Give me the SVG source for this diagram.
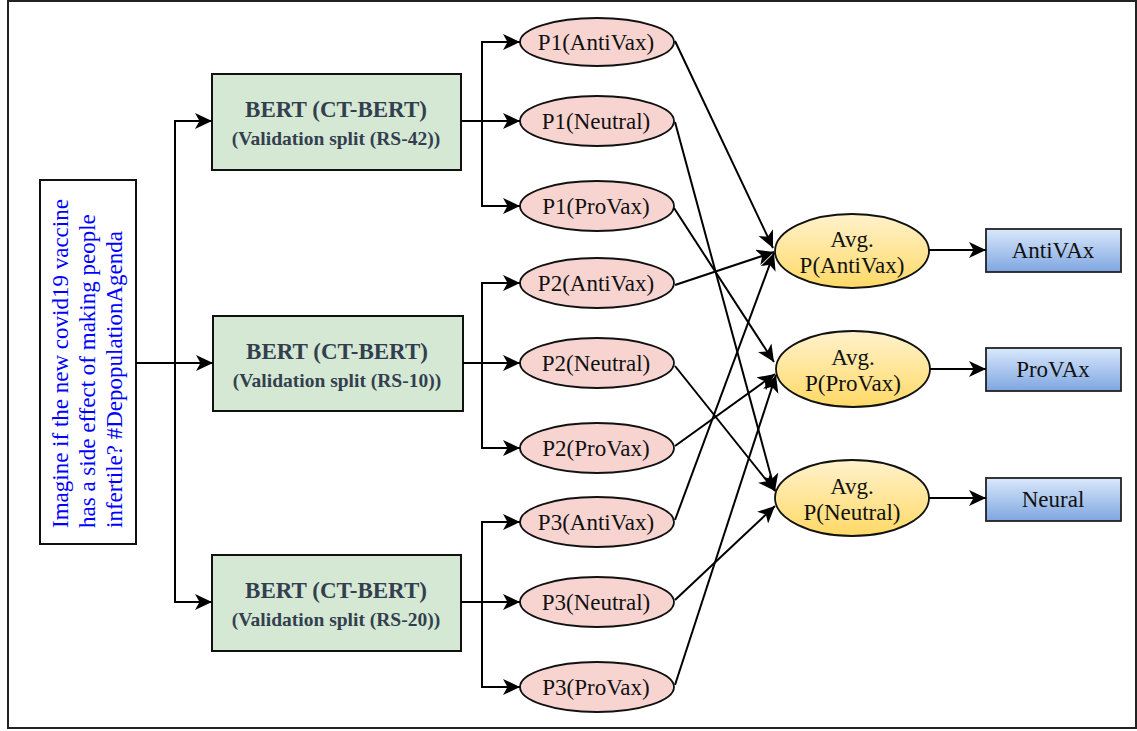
<svg xmlns="http://www.w3.org/2000/svg" width="1137" height="731" viewBox="0 0 1137 731">
<defs>
<linearGradient id="gy" x1="0" y1="0" x2="0" y2="1"><stop offset="0" stop-color="#fff2cc"/><stop offset="1" stop-color="#ffd966"/></linearGradient>
<linearGradient id="gb" x1="0" y1="0" x2="0" y2="1"><stop offset="0" stop-color="#dae8fc"/><stop offset="1" stop-color="#7ea6e0"/></linearGradient>
<marker id="ah" markerUnits="userSpaceOnUse" markerWidth="20" markerHeight="18" refX="17" refY="8" orient="auto" viewBox="0 0 20 18">
<path d="M0,0 L17,8 L0,16 L4.5,8 z" fill="#000"/>
</marker>
<style>
.frame{fill:#fff;stroke:#222;stroke-width:2}
.tb{fill:#fff;stroke:#111;stroke-width:2}
.tweet{font-family:"Liberation Serif","Times New Roman",serif;font-size:23px;fill:#0000ff}
.bert rect{fill:#d5e8d4;stroke:#111;stroke-width:2}
.bt1{font-family:"Liberation Serif","Times New Roman",serif;font-size:23px;font-weight:bold;fill:#333f4f;text-anchor:middle}
.bt2{font-family:"Liberation Serif","Times New Roman",serif;font-size:19.5px;font-weight:bold;fill:#333f4f;text-anchor:middle}
.p ellipse{fill:#f8d4d0;stroke:#111;stroke-width:1.8}
.avg ellipse{fill:url(#gy);stroke:#111;stroke-width:1.8}
.out rect{fill:url(#gb);stroke:#222;stroke-width:1.8}
.lbl{font-family:"Liberation Serif","Times New Roman",serif;font-size:23px;fill:#111;text-anchor:middle}
.c path{fill:none;stroke:#000;stroke-width:2}
.c .a{marker-end:url(#ah)}
</style>
</defs>
<rect class="frame" x="8" y="1" width="1128" height="727"/>

<g id="tweet">
<rect class="tb" x="40" y="180" width="96" height="364"/>
<text class="tweet" transform="translate(68,528) rotate(-90)"><tspan x="0" y="0">Imagine if the new covid19 vaccine</tspan><tspan x="0" y="27">has a side effect of making people</tspan><tspan x="0" y="54">infertile? #DepopulationAgenda</tspan></text>
</g>

<g id="bert1" class="bert"><rect x="212" y="74" width="249" height="96"/><text class="bt1" x="336" y="117">BERT (CT-BERT)</text><text class="bt2" x="336" y="145">(Validation split (RS-42))</text></g>
<g id="bert2" class="bert"><rect x="213" y="316" width="250" height="95"/><text class="bt1" x="337" y="359">BERT (CT-BERT)</text><text class="bt2" x="337" y="387">(Validation split (RS-10))</text></g>
<g id="bert3" class="bert"><rect x="212" y="555" width="249" height="96"/><text class="bt1" x="336" y="598">BERT (CT-BERT)</text><text class="bt2" x="336" y="626">(Validation split (RS-20))</text></g>

<g id="p1a" class="p"><ellipse cx="597" cy="42" rx="77" ry="24"/><text class="lbl" x="596" y="50">P1(AntiVax)</text></g>
<g id="p1n" class="p"><ellipse cx="597" cy="121" rx="77" ry="25"/><text class="lbl" x="596" y="129">P1(Neutral)</text></g>
<g id="p1p" class="p"><ellipse cx="597" cy="206" rx="77" ry="25"/><text class="lbl" x="596" y="214">P1(ProVax)</text></g>
<g id="p2a" class="p"><ellipse cx="597" cy="283" rx="77" ry="25"/><text class="lbl" x="596" y="291">P2(AntiVax)</text></g>
<g id="p2n" class="p"><ellipse cx="597" cy="363" rx="77" ry="25"/><text class="lbl" x="596" y="371">P2(Neutral)</text></g>
<g id="p2p" class="p"><ellipse cx="597" cy="448" rx="77" ry="25"/><text class="lbl" x="596" y="456">P2(ProVax)</text></g>
<g id="p3a" class="p"><ellipse cx="597" cy="522" rx="77" ry="25"/><text class="lbl" x="596" y="530">P3(AntiVax)</text></g>
<g id="p3n" class="p"><ellipse cx="597" cy="602" rx="77" ry="25"/><text class="lbl" x="596" y="610">P3(Neutral)</text></g>
<g id="p3p" class="p"><ellipse cx="597" cy="687" rx="77" ry="25"/><text class="lbl" x="596" y="695">P3(ProVax)</text></g>

<g id="avga" class="avg"><ellipse cx="852" cy="251" rx="77" ry="37"/><text class="lbl" x="852" y="247">Avg.</text><text class="lbl" x="852" y="273">P(AntiVax)</text></g>
<g id="avgp" class="avg"><ellipse cx="853" cy="369" rx="77" ry="38"/><text class="lbl" x="853" y="365">Avg.</text><text class="lbl" x="853" y="391">P(ProVax)</text></g>
<g id="avgn" class="avg"><ellipse cx="852" cy="498" rx="77" ry="38"/><text class="lbl" x="852" y="494">Avg.</text><text class="lbl" x="852" y="520">P(Neutral)</text></g>

<g id="outa" class="out"><rect x="986" y="229" width="135" height="43"/><text class="lbl" x="1053" y="258">AntiVAx</text></g>
<g id="outp" class="out"><rect x="986" y="348" width="135" height="43"/><text class="lbl" x="1053" y="377">ProVAx</text></g>
<g id="outn" class="out"><rect x="986" y="478" width="135" height="43"/><text class="lbl" x="1053" y="507">Neural</text></g>

<g id="connectors" class="c">
<path class="a" d="M136,363 H213"/>
<path class="a" d="M175,363 V121 H212"/>
<path class="a" d="M175,363 V602 H212"/>

<path class="a" d="M461,121 H520"/>
<path class="a" d="M482,121 V42 H520"/>
<path class="a" d="M482,121 V206 H520"/>

<path class="a" d="M463,363 H520"/>
<path class="a" d="M482,363 V283 H520"/>
<path class="a" d="M482,363 V448 H520"/>

<path class="a" d="M461,602 H520"/>
<path class="a" d="M482,602 V522 H520"/>
<path class="a" d="M482,602 V687 H520"/>

<path class="a" d="M675,41 L773,248"/>
<path class="a" d="M675,285 L774,252"/>
<path class="a" d="M675,520 L774,253"/>

<path class="a" d="M674,208 L774,362"/>
<path class="a" d="M675,446 L775,374"/>
<path class="a" d="M675,685 L776,375"/>

<path class="a" d="M675,122 L775,491"/>
<path class="a" d="M675,366 L775,491"/>
<path class="a" d="M675,600 L775,506"/>

<path class="a" d="M929,250 H986"/>
<path class="a" d="M930,369 H986"/>
<path class="a" d="M929,498 H986"/>
</g>
</svg>
